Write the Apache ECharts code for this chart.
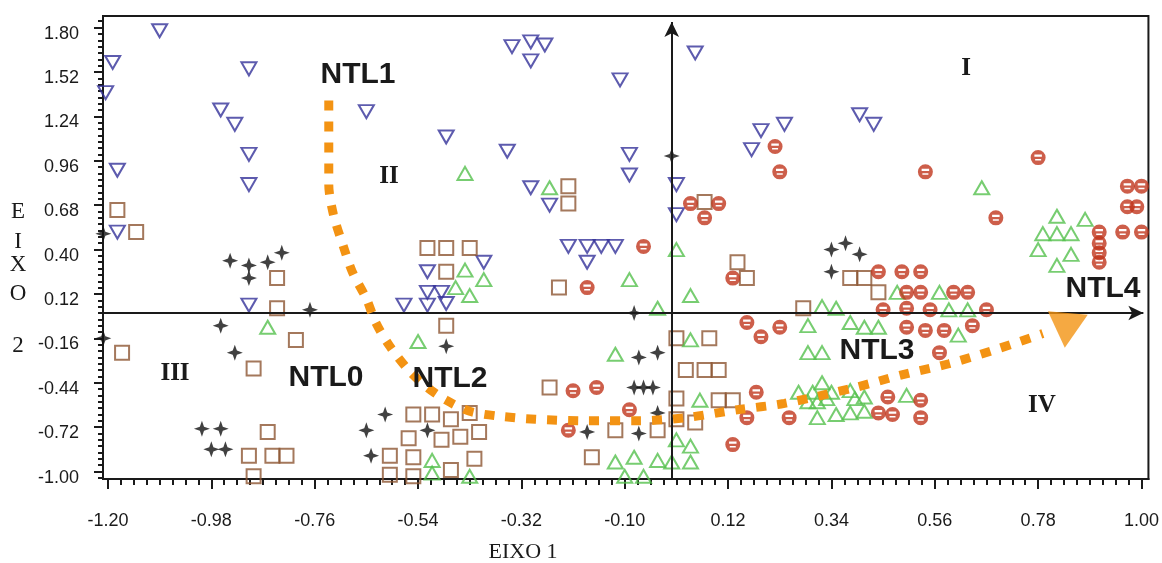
<!DOCTYPE html>
<html>
<head>
<meta charset="utf-8">
<script src="https://cdn.jsdelivr.net/npm/echarts@6/dist/echarts.min.js"></script>
<style>
  html, body { margin: 0; padding: 0; background: #fff; }
  #chart { width: 1162px; height: 563px; }
</style>
</head>
<body>
<div id="chart"></div>
<script>
// axis ticks (EIXO 1 / EIXO 2)
var xTicks = [-1.20, -0.98, -0.76, -0.54, -0.32, -0.10, 0.12, 0.34, 0.56, 0.78, 1.00];
var yTicks = [-1.00, -0.72, -0.44, -0.16, 0.12, 0.40, 0.68, 0.96, 1.24, 1.52, 1.80];
var xMin = -1.2106, xMax = 1.0148;
var yMin = -1.047, yMax = 1.873;

// inverted triangles (blue)
var invTriangles = [
  [-1.09, 1.78], [-1.19, 1.58], [-1.205, 1.39], [-0.90, 1.54], [-0.96, 1.28], [-0.93, 1.19],
  [-0.90, 1.00], [-1.18, 0.90], [-0.90, 0.81], [-0.65, 1.27], [-0.34, 1.68], [-0.30, 1.71],
  [-0.27, 1.69], [-0.30, 1.59], [-0.11, 1.47], [0.05, 1.64], [-0.48, 1.11], [-0.35, 1.02],
  [-0.09, 1.00], [-0.09, 0.87], [-0.30, 0.79], [0.01, 0.81], [0.19, 1.15], [0.17, 1.03],
  [0.24, 1.19], [0.40, 1.25], [0.43, 1.19], [-1.18, 0.51], [-0.90, 0.05], [-0.26, 0.68],
  [0.01, 0.62], [-0.22, 0.42], [-0.18, 0.42], [-0.15, 0.42], [-0.12, 0.42], [-0.18, 0.32],
  [-0.52, 0.26], [-0.40, 0.32], [-0.52, 0.13], [-0.49, 0.13], [-0.57, 0.05], [-0.52, 0.05],
  [-0.48, 0.06]
];

// squares (brown)
var squares = [
  [-1.18, 0.65], [-1.14, 0.51], [-0.84, 0.22], [-0.84, 0.03], [-0.80, -0.17], [-1.17, -0.25],
  [-0.89, -0.35], [-0.86, -0.75], [-0.90, -0.90], [-0.85, -0.90], [-0.82, -0.90], [-0.89, -1.03],
  [-0.60, -0.90], [-0.60, -1.02], [-0.52, 0.41], [-0.48, 0.41], [-0.43, 0.41], [-0.48, 0.26],
  [-0.22, 0.80], [-0.22, 0.69], [-0.24, 0.16], [-0.48, -0.08], [0.07, 0.70], [0.14, 0.32],
  [0.16, 0.22], [0.01, -0.16], [0.08, -0.16], [0.03, -0.36], [0.07, -0.36], [0.10, -0.36],
  [-0.26, -0.47], [-0.55, -0.64], [-0.51, -0.64], [-0.47, -0.67], [-0.43, -0.63], [-0.41, -0.75],
  [-0.56, -0.79], [-0.49, -0.80], [-0.45, -0.78], [-0.55, -0.91], [-0.42, -0.92], [-0.55, -1.03],
  [-0.47, -0.99], [-0.12, -0.74], [-0.03, -0.74], [-0.17, -0.91], [0.01, -0.54], [0.10, -0.55],
  [0.13, -0.55], [0.01, -0.67], [0.05, -0.69], [0.38, 0.22], [0.41, 0.22], [0.44, 0.13],
  [0.28, 0.03]
];

// triangles (green)
var triangles = [
  [-0.44, 0.88], [-0.26, 0.79], [0.66, 0.79], [-0.86, -0.09], [-0.44, 0.27], [-0.40, 0.21],
  [-0.46, 0.16], [-0.43, 0.11], [0.01, 0.40], [-0.09, 0.21], [0.04, 0.11], [-0.03, 0.03],
  [-0.54, -0.18], [-0.12, -0.26], [0.04, -0.17], [0.06, -0.55], [-0.51, -0.93], [-0.51, -1.01],
  [-0.43, -1.03], [0.01, -0.80], [0.04, -0.84], [-0.12, -0.94], [-0.08, -0.91], [-0.03, -0.93],
  [0.00, -0.94], [0.04, -0.94], [-0.10, -1.03], [-0.06, -1.03], [0.82, 0.61], [0.88, 0.59],
  [0.79, 0.50], [0.82, 0.50], [0.85, 0.50], [0.78, 0.40], [0.85, 0.37], [0.82, 0.30],
  [0.32, 0.04], [0.35, 0.03], [0.48, 0.13], [0.57, 0.13], [0.59, 0.02], [0.63, 0.02],
  [0.29, -0.08], [0.38, -0.06], [0.41, -0.09], [0.44, -0.09], [0.61, -0.14], [0.29, -0.25],
  [0.32, -0.25], [0.27, -0.50], [0.30, -0.50], [0.32, -0.44], [0.34, -0.50], [0.38, -0.49],
  [0.41, -0.53], [0.29, -0.56], [0.31, -0.56], [0.33, -0.54], [0.39, -0.54], [0.31, -0.66],
  [0.35, -0.64], [0.38, -0.63], [0.41, -0.62], [0.50, -0.52]
];

// circles (red)
var circles = [
  [0.22, 1.05], [0.23, 0.89], [0.54, 0.89], [0.78, 0.98], [0.97, 0.80], [1.00, 0.80],
  [0.04, 0.69], [0.10, 0.69], [0.07, 0.60], [-0.06, 0.42], [-0.18, 0.16], [0.13, 0.22],
  [0.16, -0.06], [0.19, -0.15], [0.23, -0.09], [-0.21, -0.49], [-0.16, -0.47], [-0.09, -0.61],
  [-0.22, -0.74], [0.18, -0.50], [0.16, -0.66], [0.13, -0.83], [0.97, 0.67], [0.99, 0.67],
  [0.96, 0.51], [1.00, 0.51], [0.91, 0.51], [0.91, 0.44], [0.91, 0.38], [0.91, 0.32],
  [0.69, 0.60], [0.44, 0.26], [0.49, 0.26], [0.53, 0.26], [0.50, 0.13], [0.53, 0.13],
  [0.60, 0.13], [0.63, 0.13], [0.45, 0.02], [0.50, 0.03], [0.55, 0.02], [0.67, 0.02],
  [0.50, -0.09], [0.54, -0.11], [0.58, -0.11], [0.64, -0.08], [0.57, -0.25], [0.25, -0.66],
  [0.46, -0.53], [0.44, -0.63], [0.47, -0.64], [0.53, -0.55], [0.53, -0.66]
];

// four point stars (black)
var stars = [
  [0.00, 0.99], [-0.94, 0.33], [-0.90, 0.30], [-0.86, 0.32], [-0.83, 0.38], [-0.90, 0.22],
  [-1.21, 0.50], [-0.77, 0.02], [-0.96, -0.08], [-0.93, -0.25], [-1.21, -0.16], [-0.48, -0.21],
  [-0.08, 0.00], [-0.07, -0.28], [-0.03, -0.25], [-0.08, -0.47], [-0.06, -0.47], [-0.04, -0.47],
  [-0.61, -0.64], [-0.52, -0.74], [-0.18, -0.75], [-0.03, -0.63], [-0.07, -0.76], [-1.00, -0.73],
  [-0.96, -0.73], [-0.98, -0.86], [-0.95, -0.86], [-0.65, -0.74], [-0.64, -0.90], [0.34, 0.40],
  [0.37, 0.44], [0.40, 0.37], [0.34, 0.26]
];

// NTL0 -> NTL4 trajectory
var trendPath = [
  [-0.73, 1.34], [-0.73, 1.09], [-0.73, 0.81], [-0.72, 0.62], [-0.70, 0.43], [-0.68, 0.26],
  [-0.65, 0.09], [-0.63, -0.06], [-0.60, -0.21], [-0.56, -0.36], [-0.52, -0.47], [-0.48, -0.55],
  [-0.43, -0.62], [-0.37, -0.65], [-0.29, -0.67], [-0.18, -0.68], [-0.07, -0.68], [0.03, -0.66],
  [0.14, -0.61], [0.24, -0.57], [0.39, -0.47], [0.49, -0.39], [0.59, -0.32], [0.69, -0.23],
  [0.79, -0.13]
];
var arrowHead = [0.84, -0.11];

// major ticks plus the small ones between them
function allTicks(ticks, n, lo, hi) {
  var step = (ticks[1] - ticks[0]) / n;
  var out = [];
  for (var i = -n; i <= (ticks.length + 1) * n; i++) {
    var v = +(ticks[0] + i * step).toFixed(4);
    if (v >= lo && v <= hi) out.push(v);
  }
  return out;
}

var ink = "#1a1a1a";
var sans = "'Liberation Sans', Arial, sans-serif";
var serif = "'Liberation Serif', 'Times New Roman', serif";

function fmt(v) {
  return v.toFixed(2);
}

function txt(x, y, text, font) {
  return {
    type: "text",
    x: x,
    y: y,
    z: 100,
    style: { text: text, font: font, fill: ink, align: "center", verticalAlign: "middle" }
  };
}

var chart = echarts.init(document.getElementById("chart"));

var option = {
  animation: false,
  grid: {
    left: 103,
    right: 7,
    top: 16,
    bottom: 84,
    show: true,
    borderColor: ink,
    borderWidth: 2
  },
  xAxis: [
    {
      type: "value",
      min: xMin,
      max: xMax,
      position: "bottom",
      axisLine: { show: true, onZero: false, lineStyle: { color: ink, width: 2 } },
      axisTick: { show: true, customValues: allTicks(xTicks, 8, xMin, xMax), length: 6, lineStyle: { color: ink, width: 2 } },
      axisLabel: { customValues: xTicks, formatter: fmt, fontSize: 18, color: ink, margin: 33, fontFamily: sans },
      splitLine: { show: false }
    },
    {
      // longer marks on the labelled values
      type: "value",
      min: xMin,
      max: xMax,
      position: "bottom",
      axisLine: { show: true, onZero: false, lineStyle: { color: ink, width: 2 } },
      axisTick: { show: true, customValues: xTicks, length: 10, lineStyle: { color: ink, width: 2 } },
      axisLabel: { show: false },
      splitLine: { show: false }
    }
  ],
  yAxis: [
    {
      type: "value",
      min: yMin,
      max: yMax,
      position: "left",
      axisLine: { show: true, onZero: false, lineStyle: { color: ink, width: 2 } },
      axisTick: { show: true, customValues: allTicks(yTicks, 7, yMin, yMax), length: 5, lineStyle: { color: ink, width: 2 } },
      axisLabel: { customValues: yTicks, formatter: fmt, fontSize: 18, color: ink, margin: 24, fontFamily: sans, verticalAlign: "top", lineHeight: 12 },
      splitLine: { show: false }
    },
    {
      type: "value",
      min: yMin,
      max: yMax,
      position: "left",
      axisLine: { show: true, onZero: false, lineStyle: { color: ink, width: 2 } },
      axisTick: { show: true, customValues: yTicks, length: 9, lineStyle: { color: ink, width: 2 } },
      axisLabel: { show: false },
      splitLine: { show: false }
    }
  ],
  graphic: [
    txt(18, 212, "E", "23px " + serif),
    txt(18, 242, "I", "23px " + serif),
    txt(18, 265, "X", "23px " + serif),
    txt(18, 294, "O", "23px " + serif),
    txt(18, 346, "2", "23px " + serif),
    txt(523, 552, "EIXO 1", "22px " + serif),
    txt(966, 69, "I", "bold 25px " + serif),
    txt(389, 177, "II", "bold 25px " + serif),
    txt(175, 374, "III", "bold 25px " + serif),
    txt(1042, 406, "IV", "bold 25px " + serif),
    txt(358, 75, "NTL1", "bold 30px " + sans),
    txt(326, 378, "NTL0", "bold 30px " + sans),
    txt(450, 379, "NTL2", "bold 30px " + sans),
    txt(877, 351, "NTL3", "bold 30px " + sans),
    txt(1103, 289, "NTL4", "bold 30px " + sans)
  ],
  series: [
    {
      name: "eixos",
      type: "scatter",
      data: [],
      markLine: {
        silent: true,
        symbol: ["none", "arrow"],
        symbolSize: [11, 15],
        label: { show: false },
        lineStyle: { color: ink, width: 2, type: "solid" },
        data: [
          [{ coord: [xMin, 0] }, { coord: [1.004, 0] }],
          [{ coord: [0, yMin] }, { coord: [0, 1.835] }]
        ]
      }
    },
    {
      name: "invTriangles",
      type: "scatter",
      symbol: "triangle",
      symbolRotate: 180,
      symbolSize: [15, 13],
      itemStyle: { color: "rgba(0,0,0,0)", borderColor: "#34329a", borderWidth: 2 },
      data: invTriangles
    },
    {
      name: "squares",
      type: "scatter",
      symbol: "rect",
      symbolSize: 14,
      itemStyle: { color: "rgba(0,0,0,0)", borderColor: "#8d5633", borderWidth: 2 },
      data: squares
    },
    {
      name: "triangles",
      type: "scatter",
      symbol: "triangle",
      symbolSize: [15, 13],
      itemStyle: { color: "rgba(0,0,0,0)", borderColor: "#55c04e", borderWidth: 2 },
      data: triangles
    },
    {
      name: "circles",
      type: "scatter",
      symbol: "path://M10,0A10,10,0,1,1,-10,0A10,10,0,1,1,10,0ZM-5,-4L-5,-1L5,-1L5,-4ZM-4,2L-4,4L4,4L4,2Z",
      symbolSize: 15,
      itemStyle: { color: "#c0361d" },
      data: circles
    },
    {
      name: "stars",
      type: "scatter",
      symbol: "path://M0,-10L2.6,-2.6L10,0L2.6,2.6L0,10L-2.6,2.6L-10,0L-2.6,-2.6Z",
      symbolSize: 16,
      itemStyle: { color: "#111" },
      data: stars
    },
    {
      name: "trajetoria",
      type: "line",
      xAxisIndex: 1,
      yAxisIndex: 1,
      data: trendPath,
      symbol: "none",
      smooth: 0.3,
      z: 5,
      lineStyle: { color: "#f39313", width: 9, type: [10, 11], cap: "butt" }
    },
    {
      name: "seta",
      type: "scatter",
      xAxisIndex: 1,
      yAxisIndex: 1,
      data: [arrowHead],
      symbol: "triangle",
      symbolRotate: 175,
      symbolSize: [40, 35],
      z: 5,
      itemStyle: { color: "#f39313" }
    }
  ]
};

chart.setOption(option);
</script>
</body>
</html>
